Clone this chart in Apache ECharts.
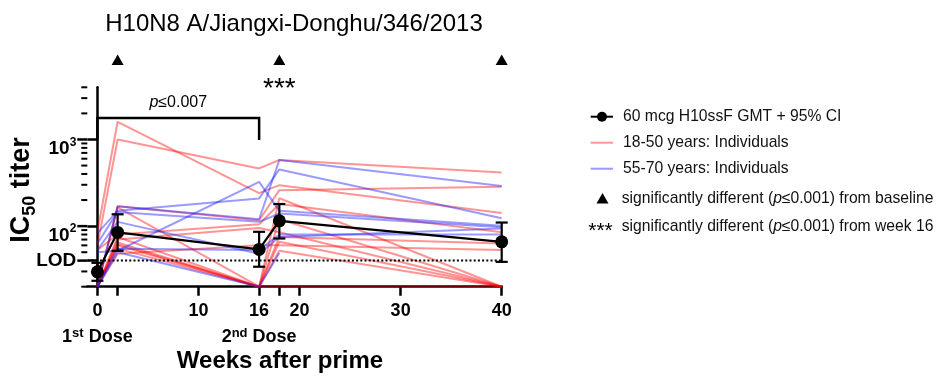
<!DOCTYPE html>
<html><head><meta charset="utf-8">
<script src="https://cdn.jsdelivr.net/npm/echarts@6/dist/echarts.min.js"></script>
<style>html,body{margin:0;padding:0;background:#fff}#c{width:938px;height:377px}</style>
</head><body><div id="c"></div>
<script>
// ---------- data ----------
const WEEKS = [0, 2, 16, 18, 40];
const GMT = [29.7, 84.6, 53.9, 115, 65.9];
const GMT_LO = [23.4, 51.9, 34, 72, 38.7];
const GMT_HI = [37.7, 137, 86, 180, 110];
const LOD = 40;
// 18-50 years individuals (values at WEEKS; 20 = below LOD)
const YOUNG = [
  [86, 1600, 240, 297, 142],
  [60, 1000, 463, 580, 416],
  [20, 170, 117, 260, 285],
  [20, 165, 20, 210, 20],
  [53, 80, 105, 180, 85],
  [20, 75, 20, 120, 20],
  [20, 70, 95, 85, 20],
  [20, 65, 20, 75, 63],
  [20, 60, 20, 66, 20],
  [20, 55, 20, 52, 20],
  [20, 48, 60, 60, 53],
  [20, 62, 20, 20, 20]
];
// 55-70 years individuals
const OLD = [
  [20, 170, 120, 580, 290],
  [50, 52, 324, 150, 101],
  [83, 150, 209, 451, 123],
  [63, 146, 112, 140, 97],
  [53, 112, 48, 75, 94],
  [20, 55, 53, 80, 80],
  [20, 50, 20, 49, null]
];
const X_TICKS = [0, 2, 10, 16, 18, 20, 30, 40];
const X_LABELS = [0, 10, 16, 20, 30, 40];
const DOSE_SUFFIX = {0: ['1', 'st'], 16: ['2', 'nd']};
const Y_MINOR = [20,30,40,50,60,70,80,90,100,200,300,400,500,600,700,800,900,1000,2000,3000,4000];
const Y_MAJOR = [40, 100, 1000];
const SIG_BASELINE = [2, 18, 40];
const SIG_WEEK16 = [18];
const BRACKET = [0, 16];
const BRACKET_TEXT = 'p≤0.007';
const TITLE = 'H10N8 A/Jiangxi-Donghu/346/2013';
const LEGEND = ['60 mcg H10ssF GMT + 95% CI', '18-50 years: Individuals', '55-70 years: Individuals',
  'significantly different ({i|p}≤0.001) from baseline', 'significantly different ({i|p}≤0.001) from week 16'];

// ---------- styling ----------
const FF = '"Liberation Sans", Arial, sans-serif';
const RED = 'rgba(255,0,0,0.42)';
const BLUE = 'rgba(30,30,255,0.45)';
const INK = '#000';

function pts(vals) {
  const out = [];
  vals.forEach((v, i) => { if (v != null) out.push([WEEKS[i], v]); });
  return out;
}

const series = [];
YOUNG.forEach(v => series.push({type: 'line', data: pts(v), symbol: 'none', clip: false, silent: true,
  lineStyle: {color: RED, width: 2}, z: 2}));
OLD.forEach(v => series.push({type: 'line', data: pts(v), symbol: 'none', clip: false, silent: true,
  lineStyle: {color: BLUE, width: 2}, z: 3}));
series.push({type: 'line', data: [[-1, LOD], [40, LOD]], symbol: 'none', silent: true, z: 4,
  lineStyle: {color: INK, width: 2, type: [2, 2.2]}});
// minor y ticks (1-2-3..9 per decade) drawn at the y axis through the axis scale
series.push({type: 'custom', z: 1, silent: true, clip: false,
  data: Y_MINOR.map(v => [-1, v]),
  renderItem(params, api) {
    const p = api.coord([api.value(0), api.value(1)]);
    const len = Y_MAJOR.indexOf(api.value(1)) >= 0 ? 10 : 6;
    return {type: 'line', shape: {x1: p[0] - len, y1: p[1], x2: p[0], y2: p[1]}, style: {stroke: INK, lineWidth: len > 6 ? 2.5 : 2}};
  }});
series.push({type: 'custom', z: 5, silent: true, clip: false,
  data: WEEKS.map((w, i) => [w, GMT_LO[i], GMT_HI[i]]),
  renderItem(params, api) {
    const lo = api.coord([api.value(0), api.value(1)]);
    const hi = api.coord([api.value(0), api.value(2)]);
    const st = {stroke: INK, lineWidth: 2.2};
    return {type: 'group', children: [
      {type: 'line', shape: {x1: lo[0], y1: lo[1], x2: hi[0], y2: hi[1]}, style: st},
      {type: 'line', shape: {x1: lo[0] - 6, y1: lo[1], x2: lo[0] + 6, y2: lo[1]}, style: st},
      {type: 'line', shape: {x1: hi[0] - 6, y1: hi[1], x2: hi[0] + 6, y2: hi[1]}, style: st}
    ]};
  }});
series.push({type: 'line', data: WEEKS.map((w, i) => [w, GMT[i]]), symbol: 'circle', symbolSize: 13,
  z: 6, silent: true, clip: false, itemStyle: {color: INK}, lineStyle: {color: INK, width: 2.2}});

const chart = echarts.init(document.getElementById('c'), null, {renderer: 'canvas'});
const option = {
  animation: false,
  backgroundColor: '#fff',
  grid: {left: 87.3, top: 87.3, width: 414.4, height: 199.4, containLabel: false},
  xAxis: {
    type: 'value', min: -1, max: 40,
    axisLine: {lineStyle: {color: INK, width: 2.5}},
    splitLine: {show: false},
    axisTick: {customValues: X_TICKS, length: 9, lineStyle: {color: INK, width: 2.5}},
    axisLabel: {
      customValues: X_LABELS, margin: 11, color: INK, fontFamily: FF, verticalAlign: 'top',
      formatter: v => DOSE_SUFFIX[v] ? '{n|' + v + '}\n{m|' + DOSE_SUFFIX[v][0] + '}{s|' + DOSE_SUFFIX[v][1] + '}{m| Dose}' : '{n|' + v + '}',
      rich: {
        n: {fontSize: 18, fontWeight: 'bold', lineHeight: 26, fontFamily: FF, color: INK},
        m: {fontSize: 18, fontWeight: 'bold', lineHeight: 26, fontFamily: FF, color: INK},
        s: {fontSize: 13, fontWeight: 'bold', lineHeight: 13, verticalAlign: 'top', padding: [3, 0, 0, 0], fontFamily: FF, color: INK}
      }
    }
  },
  yAxis: {
    type: 'log', logBase: 10, min: 20, max: 4000,
    axisLine: {lineStyle: {color: INK, width: 2.5}},
    splitLine: {show: false},
    axisTick: {customValues: Y_MAJOR, length: 10, lineStyle: {color: INK, width: 2.5}},
    axisLabel: {
      customValues: Y_MAJOR, margin: 11, color: INK, fontFamily: FF,
      formatter: v => v === LOD ? '{l|LOD}' : '{b|10}{p|' + Math.round(Math.log10(v)) + '}',
      rich: {
        l: {fontSize: 19, fontWeight: 'bold', lineHeight: 19, fontFamily: FF, color: INK},
        b: {fontSize: 19, fontWeight: 'bold', lineHeight: 19, verticalAlign: 'top', padding: [9.5, 0, 0, 0], fontFamily: FF, color: INK},
        p: {fontSize: 12, fontWeight: 'bold', lineHeight: 12, verticalAlign: 'top', padding: [6.5, 0, 0, 0], fontFamily: FF, color: INK}
      }
    }
  },
  series
};
chart.setOption(option);

// ---------- annotations positioned through the axes ----------
const px = w => chart.convertToPixel({xAxisIndex: 0}, w);
const tri = (cx, cy) => ({type: 'polygon', shape: {points: [[cx - 6, cy + 5], [cx + 6, cy + 5], [cx, cy - 5.5]]}, style: {fill: INK}});
const g = [];
g.push({type: 'text', x: 294, y: 24, style: {text: TITLE, font: '24px ' + FF, fill: INK, align: 'center', verticalAlign: 'middle'}});
SIG_BASELINE.forEach(w => g.push(tri(px(w), 60)));
SIG_WEEK16.forEach(w => g.push({type: 'text', x: px(w), y: 89.5, style: {text: '***', font: '28px ' + FF, fill: INK, align: 'center', verticalAlign: 'middle'}}));
const bx0 = px(BRACKET[0]), bx1 = px(BRACKET[1]);
g.push({type: 'polyline', shape: {points: [[bx0, 140], [bx0, 118], [bx1, 118], [bx1, 140]]}, style: {stroke: INK, lineWidth: 2.5, fill: null}});
g.push({type: 'text', x: (bx0 + bx1) / 2, y: 103, style: {
  text: '{i|p}{r|' + BRACKET_TEXT.slice(1) + '}', align: 'center', verticalAlign: 'middle',
  rich: {i: {font: 'italic 16px ' + FF, fill: INK}, r: {font: '16px ' + FF, fill: INK}}}});
// y-axis name
g.push({type: 'text', x: 22, y: 190, rotation: Math.PI / 2, style: {
  text: '{a|IC}{s|50}{a| titer}', align: 'center', verticalAlign: 'middle',
  rich: {
    a: {fontSize: 27, fontWeight: 'bold', lineHeight: 27, verticalAlign: 'top', fontFamily: FF, fill: INK},
    s: {fontSize: 18, fontWeight: 'bold', lineHeight: 18, verticalAlign: 'top', padding: [13, 0, 0, 0], fontFamily: FF, fill: INK}
  }}});
// x-axis name
g.push({type: 'text', x: 280, y: 361, style: {text: 'Weeks after prime', font: 'bold 24px ' + FF, fill: INK, align: 'center', verticalAlign: 'middle'}});
// legend
const LX = 590.7, LX2 = 613, TX = 623;
const rowsY = [116.7, 142.7, 168.7, 198.5, 226.7];
g.push({type: 'line', shape: {x1: LX, y1: rowsY[0], x2: LX2, y2: rowsY[0]}, style: {stroke: INK, lineWidth: 2}});
g.push({type: 'circle', shape: {cx: 602, cy: rowsY[0], r: 5}, style: {fill: INK}});
g.push({type: 'line', shape: {x1: LX, y1: rowsY[1], x2: LX2, y2: rowsY[1]}, style: {stroke: RED, lineWidth: 2}});
g.push({type: 'line', shape: {x1: LX, y1: rowsY[2], x2: LX2, y2: rowsY[2]}, style: {stroke: BLUE, lineWidth: 2}});
g.push(tri(602.5, rowsY[3]));
g.push({type: 'text', x: 600.5, y: rowsY[4] + 4.5, style: {text: '***', font: '21px ' + FF, fill: INK, align: 'center', verticalAlign: 'middle'}});
LEGEND.forEach((t, i) => g.push({type: 'text', x: i < 3 ? TX : 621.7, y: rowsY[i], style: {
  text: t, align: 'left', verticalAlign: 'middle', font: '15.7px ' + FF, fill: '#111',
  rich: {i: {font: 'italic 15.7px ' + FF, fill: '#111'}}}}));
chart.setOption({graphic: {elements: g}});
</script></body></html>
